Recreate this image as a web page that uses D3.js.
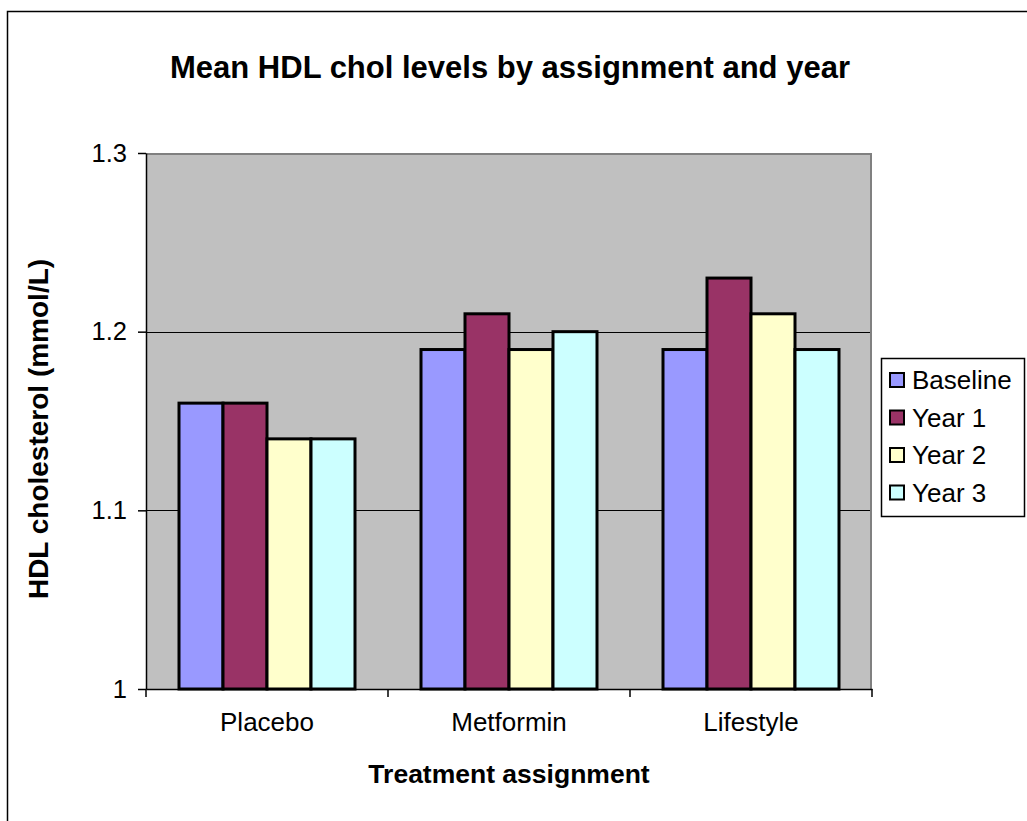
<!DOCTYPE html>
<html>
<head>
<meta charset="utf-8">
<script src="https://cdn.jsdelivr.net/npm/d3@7/dist/d3.min.js"></script>
<style>
  html, body { margin: 0; padding: 0; background: #fff; }
  svg { display: block; font-family: "Liberation Sans", Arial, sans-serif; }
</style>
</head>
<body>
<svg id="chart" width="1027" height="821"></svg>
<script>
// Mean HDL cholesterol (mmol/L) by treatment assignment and study year
const categories = ["Placebo", "Metformin", "Lifestyle"];
const seriesNames = ["Baseline", "Year 1", "Year 2", "Year 3"];
const baseline = [1.16, 1.19, 1.19];
const year1 = [1.16, 1.21, 1.23];
const year2 = [1.14, 1.19, 1.21];
const year3 = [1.14, 1.20, 1.19];
const yTicks = [1, 1.1, 1.2, 1.3];
const colors = ["#9999FF", "#993366", "#FFFFCC", "#CCFFFF"];

const seriesValues = [baseline, year1, year2, year3];

const svg = d3.select("#chart");
const W = 1027, H = 821;

// outer chart frame
svg.append("rect")
  .attr("x", 7.5).attr("y", 11.5)
  .attr("width", W + 10).attr("height", H + 10)
  .attr("fill", "#fff").attr("stroke", "#000").attr("stroke-width", 1.5);

const plot = { left: 146, right: 872, top: 153, bottom: 689 };

const y = d3.scaleLinear().domain([1, 1.3]).range([plot.bottom, plot.top]);
const x0 = d3.scaleBand().domain(categories).range([plot.left, plot.right]).paddingInner(0).paddingOuter(0);
const groupWidth = 176;
const x1 = d3.scaleBand().domain(seriesNames)
  .range([0, groupWidth]).padding(0);

// plot area background
svg.append("rect")
  .attr("x", plot.left).attr("y", plot.top)
  .attr("width", plot.right - plot.left).attr("height", plot.bottom - plot.top)
  .attr("fill", "#C0C0C0");

// gray frame on top and right of plot area
svg.append("path")
  .attr("d", `M${plot.left},${plot.top + 1}H${plot.right - 1}V${plot.bottom}`)
  .attr("fill", "none").attr("stroke", "#808080").attr("stroke-width", 2);

// horizontal gridlines
svg.append("g")
  .selectAll("line")
  .data(yTicks.filter(t => t > 1 && t < 1.3))
  .join("line")
  .attr("x1", plot.left).attr("x2", plot.right - 2)
  .attr("y1", d => Math.round(y(d)) + 0.5).attr("y2", d => Math.round(y(d)) + 0.5)
  .attr("stroke", "#000").attr("stroke-width", 1);

// bars
const groups = svg.append("g")
  .selectAll("g")
  .data(categories)
  .join("g")
  .attr("transform", d => `translate(${x0(d) + (x0.bandwidth() - groupWidth) / 2},0)`);

groups.selectAll("rect")
  .data((d, i) => seriesNames.map((s, j) => ({ s, v: seriesValues[j][i], c: colors[j] })))
  .join("rect")
  .attr("x", d => x1(d.s))
  .attr("y", d => y(d.v))
  .attr("width", x1.bandwidth())
  .attr("height", d => y(1) - y(d.v))
  .attr("fill", d => d.c)
  .attr("stroke", "#000")
  .attr("stroke-width", 3);

// y axis
const yAxis = d3.axisLeft(y).tickValues(yTicks)
  .tickFormat(d => d3.format("")(d))
  .tickSizeOuter(0).tickSizeInner(8).tickPadding(11);
const gy = svg.append("g").attr("transform", `translate(${plot.left},0)`).call(yAxis);
gy.select(".domain").attr("stroke", "#000").attr("stroke-width", 1.5);
gy.selectAll(".tick line").attr("stroke", "#000").attr("stroke-width", 1.5);
gy.selectAll(".tick text")
  .attr("font-size", 25.5).attr("fill", "#000")
  .style("font-family", "'Liberation Sans', Arial, sans-serif");

// x axis
const xAxis = d3.axisBottom(x0).tickSize(0).tickPadding(24);
const gx = svg.append("g").attr("transform", `translate(0,${plot.bottom})`).call(xAxis);
gx.select(".domain").attr("stroke", "#000").attr("stroke-width", 1.5);
gx.selectAll(".tick text")
  .attr("font-size", 26).attr("fill", "#000")
  .style("font-family", "'Liberation Sans', Arial, sans-serif");

// category boundary tick marks
svg.append("g")
  .selectAll("line")
  .data(d3.range(categories.length + 1))
  .join("line")
  .attr("x1", i => plot.left + i * x0.bandwidth())
  .attr("x2", i => plot.left + i * x0.bandwidth())
  .attr("y1", plot.bottom).attr("y2", plot.bottom + 8)
  .attr("stroke", "#000").attr("stroke-width", 1.5);

// title
svg.append("text")
  .attr("x", 510).attr("y", 78)
  .attr("text-anchor", "middle")
  .attr("font-size", 31).attr("font-weight", "bold")
  .text("Mean HDL chol levels by assignment and year");

// axis titles
svg.append("text")
  .attr("x", (plot.left + plot.right) / 2).attr("y", 783)
  .attr("text-anchor", "middle")
  .attr("font-size", 26.5).attr("font-weight", "bold")
  .text("Treatment assignment");

svg.append("text")
  .attr("transform", `translate(48,${(plot.top + plot.bottom) / 2 + 8}) rotate(-90)`)
  .attr("text-anchor", "middle")
  .attr("font-size", 28).attr("font-weight", "bold")
  .text("HDL cholesterol (mmol/L)");

// legend
const legend = svg.append("g");
legend.append("rect")
  .attr("x", 881.5).attr("y", 358.5)
  .attr("width", 143).attr("height", 158)
  .attr("fill", "#fff").attr("stroke", "#000").attr("stroke-width", 1.5);

const items = legend.selectAll("g.item")
  .data(seriesNames)
  .join("g")
  .attr("class", "item")
  .attr("transform", (d, i) => `translate(890,${380 + i * 37.5})`);

items.append("rect")
  .attr("x", 0).attr("y", -7)
  .attr("width", 14).attr("height", 14)
  .attr("fill", (d, i) => colors[i])
  .attr("stroke", "#000").attr("stroke-width", 2);

items.append("text")
  .attr("x", 22).attr("y", 9)
  .attr("font-size", 26)
  .text(d => d);
</script>
</body>
</html>
